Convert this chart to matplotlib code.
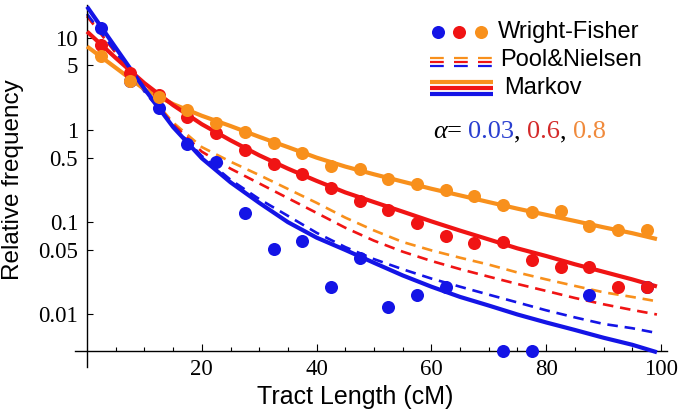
import numpy as np
import matplotlib
matplotlib.use("Agg")
import matplotlib.pyplot as plt
from matplotlib.lines import Line2D

plt.rcParams["font.family"] = ["Liberation Serif", "DejaVu Serif"]

# ---------------- data ----------------
wf_x = [2.5, 7.5, 12.5, 17.5, 22.5, 27.5, 32.5, 37.5, 42.5, 47.5,
        52.5, 57.5, 62.5, 67.5, 72.5, 77.5, 82.5, 87.5, 92.5, 97.5]
wf_blue = [12.6, 3.4, 1.72, 0.705, 0.447, 0.125, 0.051, 0.063, 0.0201, 0.0409,
           0.0121, 0.0161, 0.0201, np.nan, 0.004, 0.004, np.nan, 0.0161, np.nan, 0.020]
wf_red = [8.3, 4.17, 2.39, 1.39, 0.92, 0.61, 0.429, 0.33, 0.232, 0.171,
          0.135, 0.098, 0.0713, 0.0594, 0.0603, 0.0392, 0.0327, 0.0327, 0.0201, 0.0199]
wf_orange = [6.32, 3.42, 2.26, 1.65, 1.2, 0.958, 0.729, 0.555, 0.405, 0.38,
             0.295, 0.26, 0.224, 0.19, 0.154, 0.129, 0.133, 0.0914, 0.0827, 0.0814]

curve_x = [0, 5, 10, 15, 20, 25, 30, 35, 40, 45, 50, 55, 60, 65, 70, 75, 80, 85, 90, 95, 99.3]
markov_blue = [21.6, 7.74, 2.78, 1.07, 0.492, 0.27, 0.162, 0.1, 0.068, 0.05, 0.0363, 0.0265,
               0.02, 0.0155, 0.0125, 0.01, 0.0082, 0.0068, 0.0056, 0.0047, 0.0039]
markov_red = [11.6, 6.0, 3.2, 1.85, 1.15, 0.77, 0.53, 0.38, 0.28, 0.21, 0.165, 0.13,
              0.102, 0.081, 0.065, 0.052, 0.043, 0.035, 0.029, 0.024, 0.0201]
markov_orange = [8.0, 4.7, 2.75, 1.9, 1.42, 1.1, 0.84, 0.65, 0.5, 0.4, 0.33, 0.275,
                 0.23, 0.195, 0.165, 0.14, 0.12, 0.103, 0.088, 0.076, 0.0656]
pn_blue = [18, 7.0, 2.6, 1.1, 0.52, 0.288, 0.178, 0.117, 0.0767, 0.0537, 0.0398, 0.0309,
           0.0245, 0.02, 0.0164, 0.0135, 0.0111, 0.0093, 0.0079, 0.0071, 0.0063]
pn_red = [17, 6.8, 2.7, 1.15, 0.58, 0.38, 0.263, 0.182, 0.126, 0.087, 0.063, 0.0479,
          0.038, 0.031, 0.0257, 0.0214, 0.018, 0.0151, 0.0129, 0.0112, 0.010]
pn_orange = [17.5, 6.9, 2.75, 1.2, 0.65, 0.452, 0.324, 0.229, 0.162, 0.112, 0.0813, 0.061,
             0.0495, 0.0412, 0.0347, 0.0285, 0.024, 0.0204, 0.0174, 0.0155, 0.0139]

xticks = [20, 40, 60, 80, 100]
xminor = [5, 10, 15, 25, 30, 35, 45, 50, 55, 65, 70, 75, 85, 90, 95]
yticks = [10, 5, 1, 0.5, 0.1, 0.05, 0.01]
ytick_labels = ["10", "5", "1", "0.5", "0.1", "0.05", "0.01"]
alphas = ["0.03", "0.6", "0.8"]

BLUE = "#1414e6"
RED = "#f01414"
ORANGE = "#f8901c"
TXT_BLUE = "#2a3fd0"
TXT_RED = "#d42a2a"
TXT_ORANGE = "#f08a3c"

W, H = 680, 412
fig = plt.figure(figsize=(W / 100, H / 100), dpi=100)
ax = fig.add_axes([75 / W, 1 - 367 / H, 591.7 / W, 362 / H])
ax.set_yscale("log")
ax.set_xlim(-2.1, 101.0)
ax.set_ylim(0.0027, 22.5)

serif = "Liberation Serif"
sans = "Liberation Sans"

# lines
for ys, c in [(pn_orange, ORANGE), (pn_red, RED), (pn_blue, BLUE)]:
    ax.plot(curve_x, ys, color=c, lw=1.9, dashes=(4, 2.6), zorder=2)
for ys, c in [(markov_orange, ORANGE), (markov_red, RED), (markov_blue, BLUE)]:
    ax.plot(curve_x, ys, color=c, lw=3.0, solid_capstyle="butt", zorder=3)
# points
for ys, c in [(wf_blue, BLUE), (wf_red, RED), (wf_orange, ORANGE)]:
    ax.plot(wf_x, ys, "o", color=c, ms=9.4, mew=0, zorder=5, clip_on=False)

# axes styling (Mathematica-like crossing axes)
for s in ["top", "right"]:
    ax.spines[s].set_visible(False)
ax.spines["left"].set_position(("data", 0))
ax.spines["bottom"].set_position(("data", 0.004))
ax.spines["left"].set_linewidth(1.0)
ax.spines["bottom"].set_linewidth(1.0)
ax.set_xticks(xticks)
ax.set_xticklabels([str(t) for t in xticks])
ax.set_xticks(xminor, minor=True)
ax.set_yticks(yticks)
ax.set_yticklabels(ytick_labels)
ax.yaxis.set_minor_locator(matplotlib.ticker.NullLocator())
ax.tick_params(axis="x", which="major", direction="in", length=4.8, width=0.8, pad=5.5,
               labelsize=16.5)
ax.tick_params(axis="x", which="minor", direction="in", length=3.0, width=0.8)
ax.tick_params(axis="y", which="major", direction="in", length=4.5, width=0.8, pad=6.5,
               labelsize=16.5)

fig.text(13 / W, 1 - 180 / H, "Relative frequency", rotation=90, ha="center", va="center",
         fontsize=17.5, family=sans)
fig.text(355 / W, 1 - 397 / H, "Tract Length (cM)", ha="center", va="center",
         fontsize=18, family=sans)

# legend
def fx(px):
    return px / W

def fy(py):
    return 1 - py / H

for px, c in [(438, BLUE), (459, RED), (481, ORANGE)]:
    fig.add_artist(Line2D([fx(px)], [fy(32)], marker="o", color=c, ms=9.4, mew=0,
                          transform=fig.transFigure))
fig.text(fx(498), fy(32), "Wright-Fisher", ha="left", va="center", fontsize=17, family=sans)

for py, c in [(57.7, ORANGE), (61.7, RED), (65.7, BLUE)]:
    fig.add_artist(Line2D([fx(430), fx(496)], [fy(py), fy(py)], color=c, lw=1.6,
                          dashes=(6.2, 4.6), transform=fig.transFigure))
fig.text(fx(500), fy(60), "Pool&Nielsen", ha="left", va="center", fontsize=17, family=sans)

for py, c in [(82.3, ORANGE), (88.0, RED), (94.3, BLUE)]:
    fig.add_artist(Line2D([fx(430), fx(493)], [fy(py), fy(py)], color=c, lw=3.0,
                          solid_capstyle="butt", transform=fig.transFigure))
fig.text(fx(504), fy(88), "Markov", ha="left", va="center", fontsize=17, family=sans)

pieces = [("α", "black", "italic"), ("= ", "black", "normal"),
          (alphas[0], TXT_BLUE, "normal"), (", ", "black", "normal"),
          (alphas[1], TXT_RED, "normal"), (", ", "black", "normal"),
          (alphas[2], TXT_ORANGE, "normal")]
t = fig.text(fx(433), fy(143), pieces[0][0], color=pieces[0][1], fontstyle=pieces[0][2],
             fontsize=19, family=serif, ha="left", va="bottom")
for s, c, st in pieces[1:]:
    prev = t
    t = fig.text(0, 0, s, color=c, fontstyle=st, fontsize=19, family=serif)
    t.set_transform(matplotlib.transforms.IdentityTransform())
    fig.canvas.draw()
    bb = prev.get_window_extent()
    t.set_position((bb.x1, bb.y0))
    t.set_ha("left")
    t.set_va("bottom")

fig.savefig("out.png", dpi=100)
